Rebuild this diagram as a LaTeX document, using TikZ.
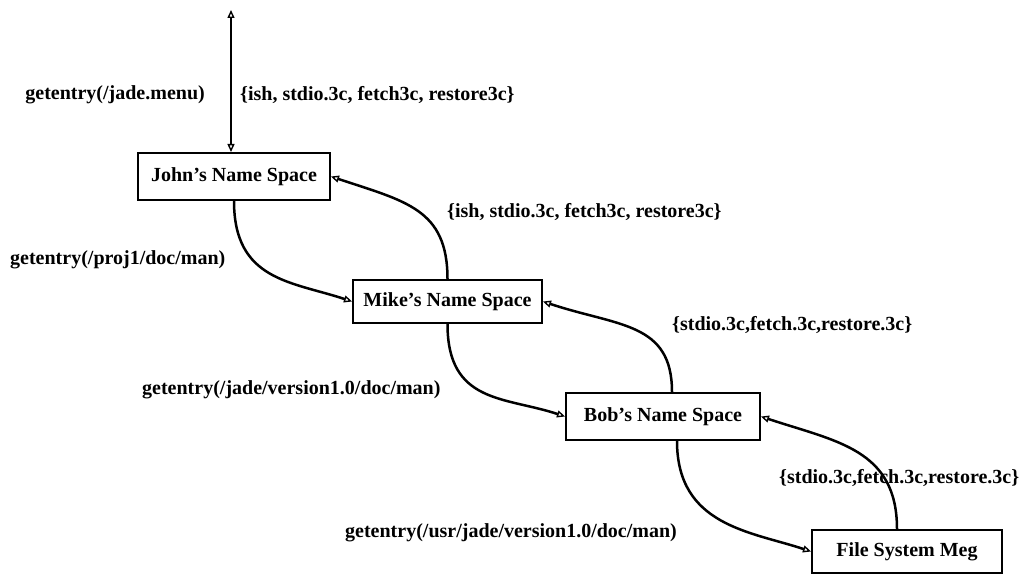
\documentclass[tikz,border=0pt]{standalone}
\usepackage{fontspec}
\setmainfont{Liberation Serif}
\usetikzlibrary{arrows.meta,calc}
\begin{document}
\begin{tikzpicture}[x=1pt,y=-1pt,
  nsbox/.style={draw, line width=2pt, minimum width=190pt, minimum height=45pt,
    inner sep=0pt, font=\fontsize{20}{23}\selectfont\bfseries},
  lbl/.style={inner sep=0pt, font=\fontsize{20}{23}\selectfont\bfseries},
  hollowtip/.tip={Triangle[open,length=8pt,width=7pt,line width=1.4pt]},
  link/.style={line width=2.5pt, -hollowtip},
  dlink/.style={line width=2.5pt, hollowtip-hollowtip},
]
\useasboundingbox (0,0) rectangle (1028,575);

% name spaces
\node[nsbox, minimum width=192pt, minimum height=47pt] (john) at (234,176.5) {John's Name Space};
\node[nsbox, minimum width=189pt, minimum height=43pt] (mike) at (447.5,301.5) {Mike's Name Space};
\node[nsbox, minimum width=194pt, minimum height=47pt] (bob)  at (663,416.5) {Bob's Name Space};
\node[nsbox, minimum width=190pt, minimum height=43pt] (fsm)  at (907,551.5) {File System Meg};

% outside caller
\coordinate (user) at (231,10);
\draw[dlink] (user) -- (user |- john.north);

% requests going down
\draw[link] (john.south) .. controls +(0,80) and +(-60,-20) .. (mike.west);
\draw[link] (mike.south) .. controls +(0,80) and +(-60,-20) .. (bob.west);
\draw[link] ([xshift=14pt]bob.south) .. controls +(0,85) and +(-60,-20) .. (fsm.west);

% answers coming back up
\draw[link] (mike.north) .. controls +(0,-70) and +(75,25) .. (john.east);
\draw[link] ([xshift=9pt]bob.north) .. controls +(0,-70) and +(75,25) .. (mike.east);
\draw[link] ([xshift=-10pt]fsm.north) .. controls +(0,-80) and +(75,25) .. (bob.east);

% labels
\node[lbl, anchor=east] (q1) at (205,95) {getentry(/jade.menu)};
\node[lbl, anchor=west] (r1) at (240,95) {\{ish, stdio.3c, fetch3c, restore3c\}};
\node[lbl, anchor=west] (q2) at (10,260) {getentry(/proj1/doc/man)};
\node[lbl, anchor=west] (r2) at (447,212) {\{ish, stdio.3c, fetch3c, restore3c\}};
\node[lbl, anchor=west] (q3) at (142,390) {getentry(/jade/version1.0/doc/man)};
\node[lbl, anchor=west] (r3) at (672,325) {\{stdio.3c,fetch.3c,restore.3c\}};
\node[lbl, anchor=west] (q4) at (345,533) {getentry(/usr/jade/version1.0/doc/man)};
\node[lbl, anchor=west] (r4) at (779,478) {\{stdio.3c,fetch.3c,restore.3c\}};
\end{tikzpicture}
\end{document}
